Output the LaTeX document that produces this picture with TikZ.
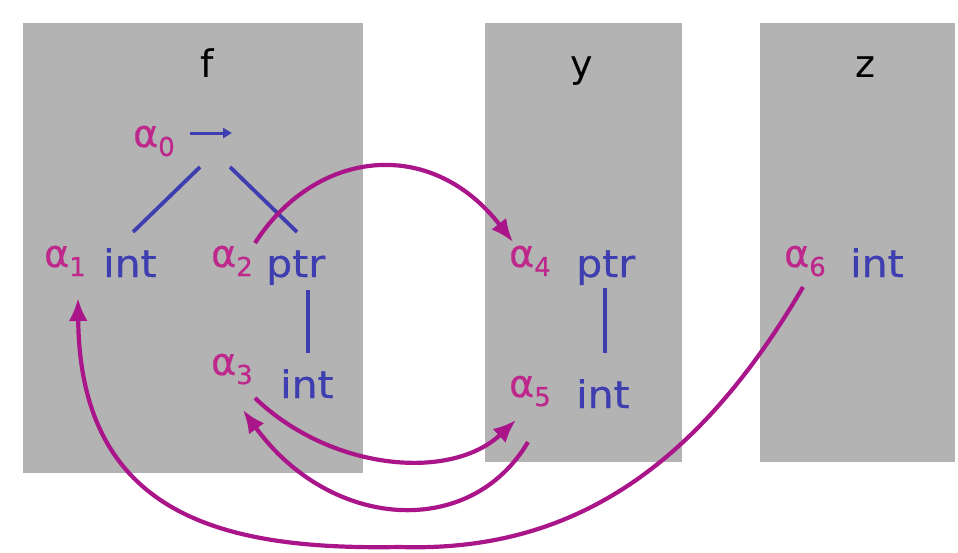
\documentclass[tikz,border=0pt]{standalone}
\usepackage{fontspec}
\setmainfont{DejaVu Sans}
\newfontfamily\typefont[FakeStretch=1.08,FakeBold=0.6]{DejaVu Sans}
\newfontfamily\alfont[FakeBold=0.6]{DejaVu Sans}
\usetikzlibrary{arrows.meta}
\definecolor{boxgrey}{RGB}{179,179,179}
\definecolor{mag}{RGB}{170,22,138}
\definecolor{magtext}{RGB}{190,40,140}
\definecolor{typeblue}{RGB}{62,62,176}
\newcommand\sbs[1]{\raisebox{-9pt}{\fontsize{26}{26}\selectfont #1}}
\tikzset{
  gbox/.style={fill=boxgrey, draw=none},
  ttl/.style={inner sep=0pt, anchor=base, font=\fontsize{38}{38}\selectfont, text=black},
  alab/.style={inner sep=0pt, anchor=base west, font=\alfont\fontsize{38}{38}\selectfont, text=magtext},
  tlab/.style={inner sep=0pt, anchor=base west, font=\typefont\fontsize{38}{38}\selectfont, text=typeblue},
  tree/.style={draw=typeblue, line width=3.8pt},
  fnarrow/.style={draw=typeblue, line width=3pt, -{Triangle[length=9pt,width=10pt]}},
  flow/.style={draw=mag, line width=4.2pt, -{Latex[length=23pt,width=19pt]}}
}
\begin{document}
\begin{tikzpicture}[x=1pt,y=-1pt]
\useasboundingbox (0,0) rectangle (958,552);
% boxes
\path[gbox] (23,23) rectangle (363,473);
\path[gbox] (485,23) rectangle (682,462);
\path[gbox] (760,23) rectangle (955,462);
% titles
\node[ttl] (tf) at (207,77) {f};
\node[ttl] (ty) at (582,77) {y};
\node[ttl] (tz) at (865,77) {z};
% labels in f
\node[alab] (a0) at (133,147) {α\sbs{0}};
\coordinate (arrs) at (190,133);
\coordinate (arre) at (232,133);
\draw[fnarrow] (arrs) -- (arre);
\node[alab] (a1) at (44,267) {α\sbs{1}};
\node[tlab] (i1) at (103,277) {int};
\node[alab] (a2) at (211,267) {α\sbs{2}};
\node[tlab] (p2) at (266,277) {ptr};
\node[alab] (a3) at (211,375) {α\sbs{3}};
\node[tlab] (i3) at (280,398) {int};
% labels in y
\node[alab] (a4) at (509,267) {α\sbs{4}};
\node[tlab] (p4) at (576,277) {ptr};
\node[alab] (a5) at (509,397) {α\sbs{5}};
\node[tlab] (i5) at (576,408) {int};
% labels in z
\node[alab] (a6) at (784,267) {α\sbs{6}};
\node[tlab] (i6) at (850,277) {int};
% tree edges
\coordinate (t0l) at (200,167);
\coordinate (t1) at (133,232);
\coordinate (t0r) at (230,167);
\coordinate (t2) at (297,232);
\draw[tree] (t0l) -- (t1);
\draw[tree] (t0r) -- (t2);
\coordinate (p2b) at (308,290);
\coordinate (i3t) at (308,353);
\draw[tree] (p2b) -- (i3t);
\coordinate (p4b) at (605,288);
\coordinate (i5t) at (605,353);
\draw[tree] (p4b) -- (i5t);
% flow arrows
\coordinate (a2o) at (255,243);
\coordinate (a4i) at (513,242);
\draw[flow] (a2o) .. controls (315,150) and (430,135) .. (a4i);
\coordinate (a3o) at (255,398);
\coordinate (a5i) at (516,420);
\draw[flow] (a3o) .. controls (330,470) and (450,482) .. (a5i);
\coordinate (a5o) at (528,442);
\coordinate (a3i) at (243,410);
\draw[flow] (a5o) .. controls (470,540) and (330,530) .. (a3i);
\coordinate (a6o) at (803,287);
\coordinate (a1i) at (78,298);
\coordinate (lowmid) at (400,547);
\draw[flow] (a6o) .. controls (690,480) and (560,552) .. (lowmid)
                  .. controls (230,550) and (80,520) .. (a1i);
\end{tikzpicture}
\end{document}
